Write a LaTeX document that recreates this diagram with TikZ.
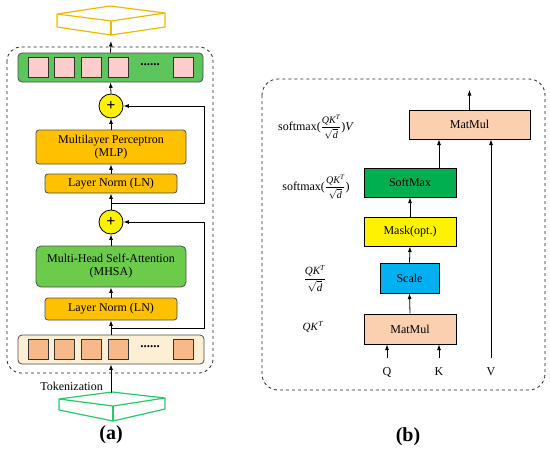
\documentclass[tikz,border=0pt]{standalone}
\usepackage{amsmath}
\usepackage{fontspec}
\setmainfont{Liberation Serif}
\usetikzlibrary{arrows.meta,calc}
\definecolor{gold}{HTML}{FFC000}
\definecolor{goldline}{HTML}{F5B800}
\definecolor{mhsagreen}{HTML}{6CCB4B}
\definecolor{bargreen}{HTML}{5CC55C}
\definecolor{prismgreen}{HTML}{22CC66}
\definecolor{pinksq}{HTML}{FFCCCC}
\definecolor{orangesq}{HTML}{F8B98A}
\definecolor{beige}{HTML}{FCEFD4}
\definecolor{peach}{HTML}{FAD0B0}
\definecolor{smgreen}{HTML}{00B050}
\definecolor{scaleblue}{HTML}{00B0F0}
\newcommand{\ti}[1]{\text{\itshape #1}}
\newcommand{\myfrac}{{\fontsize{10}{12}\selectfont$\dfrac{\ti{QK}^{\ti{T}}}{\sqrt{\ti{d}}}$}}
\begin{document}
\begin{tikzpicture}[x=1pt,y=-1pt,
  every node/.style={font=\fontsize{12}{14}\selectfont},
  arr/.style={-{Latex[length=5.5pt,width=4pt]},line width=0.8pt},
  rbox/.style={draw=black!70,line width=0.8pt,rounded corners=3pt,align=center,inner sep=0pt},
  lnbox/.style={rbox,fill=gold,minimum width=132pt,minimum height=20pt},
  bigbox/.style={rbox,minimum width=150pt},
  sq/.style={draw=black!80,line width=0.8pt,minimum width=20pt,minimum height=20pt,inner sep=0pt},
  plusnode/.style={circle,draw=black,line width=0.8pt,fill=yellow,minimum size=24pt,inner sep=0pt,font=\fontsize{16}{16}\selectfont\bfseries},
  bbox/.style={draw=black,line width=1pt,inner sep=0pt,minimum height=29pt},
  dashbox/.style={draw=black!85,dashed,line width=0.8pt,rounded corners=14pt},
  prism/.style={line width=1.2pt,line join=round},
  fml/.style={inner sep=0pt}]
\useasboundingbox (0,0) rectangle (550,450);

% ---------- panel (a) ----------
\draw[dashbox] (7,47) rectangle (213,373);

% top prism (output)
\begin{scope}[prism,draw=goldline]
\draw (57,14) -- (110,6) -- (165,13) -- (111,21) -- cycle;
\draw (57,14) -- (57,27) -- (111,35) -- (165,27) -- (165,13);
\draw[line width=2.6pt] (111,21) -- (111,35);
\end{scope}
\coordinate (topin) at (111,41);

% bottom prism (input)
\begin{scope}[prism,draw=prismgreen]
\draw (59,399) -- (112,392) -- (165,398) -- (113,406) -- cycle;
\draw (59,399) -- (59,410) -- (113,421) -- (165,409) -- (165,398);
\draw[line width=2.6pt] (113,406) -- (113,421);
\end{scope}
\coordinate (botout) at (111,393);

% output token bar
\node[rbox,fill=bargreen,minimum width=185pt,minimum height=29pt,rounded corners=4pt] (outbar) at (110.5,67.5) {};
\foreach \x/\n in {38/1,64/2,91/3,118/4,183/5}
  \node[sq,fill=pinksq] (o\n) at (\x,67) {};
\node[font=\fontsize{13}{14}\selectfont\bfseries] (odots) at (150,65) {......};

% input token bar
\node[rbox,fill=beige,minimum width=186pt,minimum height=29pt,rounded corners=4pt] (inbar) at (111,349.5) {};
\foreach \x/\n in {38/1,64/2,91/3,118/4,183/5}
  \node[sq,fill=orangesq] (i\n) at (\x,349.5) {};
\node[font=\fontsize{13}{14}\selectfont\bfseries] (idots) at (150,347) {......};

% blocks
\node[plusnode] (p1) at (111,106) {+};
\node[plusnode] (p2) at (111,222) {+};
\node[bigbox,fill=gold,minimum height=34pt] (mlp) at (111,147) {Multilayer Perceptron\\[-1pt](MLP)};
\node[lnbox,minimum height=19pt] (ln1) at (111,183.5) {Layer Norm (LN)};
\node[bigbox,fill=mhsagreen,minimum height=41pt,rounded corners=5pt] (mhsa) at (111,266.5) {Multi-Head Self-Attention\\[-1pt](MHSA)};
\node[lnbox,minimum height=22pt] (ln2) at (111,309) {Layer Norm (LN)};

\coordinate (b2) at (111,328);
\coordinate (b1) at (111,203);
\coordinate (r2) at (204,328);
\coordinate (r1) at (204,203);

\draw[arr] (inbar.north) -- (ln2.south);
\draw[arr] (b2) -- (r2) |- (p2.east);
\draw[arr] (ln2.north) -- (mhsa.south);
\draw[arr] (mhsa.north) -- (p2.south);
\draw[arr] (p2.north) -- (ln1.south);
\draw[arr] (b1) -- (r1) |- (p1.east);
\draw[arr] (ln1.north) -- (mlp.south);
\draw[arr] (mlp.north) -- (p1.south);
\draw[arr] (p1.north) -- (outbar.south);
\draw[arr] (outbar.north) -- (topin);
\draw[arr] (botout) -- (inbar.south);
\node[anchor=east,inner sep=0pt] (tok) at (103,386) {Tokenization};
\node[font=\fontsize{20}{22}\selectfont\bfseries] (la) at (111,435) {(a)};

% ---------- panel (b) ----------
\draw[dashbox,rounded corners=16pt] (262,79) rectangle (545,390);

\node[bbox,fill=peach,minimum width=121pt] (mm2) at (469.5,124.5) {MatMul};
\node[bbox,fill=smgreen,minimum width=92pt] (sm) at (410,182.5) {SoftMax};
\node[bbox,fill=yellow,minimum width=92pt] (mask) at (410,231.5) {Mask(opt.)};
\node[bbox,fill=scaleblue,minimum width=59pt,minimum height=30pt] (scale) at (409.5,278) {Scale};
\node[bbox,fill=peach,minimum width=92pt,minimum height=30pt] (mm1) at (410,329) {MatMul};

\node[inner sep=0pt] (Q) at (387,372) {Q};
\node[inner sep=0pt] (K) at (439,372) {K};
\node[inner sep=0pt] (V) at (491,372) {V};
\coordinate (qs) at (387,358);
\coordinate (ks) at (439,358);
\coordinate (vs) at (491,358);
\coordinate (topout) at (469.5,90);
\coordinate (sms) at (439,168);

\draw[arr] (qs) -- (qs |- mm1.south);
\draw[arr] (ks) -- (ks |- mm1.south);
\draw[arr] (vs) -- (vs |- mm2.south);
\draw[arr] (mm1.north) -- (scale.south);
\draw[arr] (scale.north) -- (mask.south);
\draw[arr] (mask.north) -- (sm.south);
\draw[arr] (sms) -- (sms |- mm2.south);
\draw[arr] (mm2.north) -- (topout);

\node[fml] (f1) at (316,127) {softmax(\myfrac)\textit{V}};
\node[fml] (f2) at (316,187) {softmax(\myfrac)};
\node[fml,font=\fontsize{11}{13}\selectfont] (f3) at (315,279) {$\dfrac{\ti{QK}^{\ti{T}}}{\sqrt{\ti{d}}}$};
\node[fml,font=\fontsize{11}{13}\selectfont] (f4) at (313,327) {\textit{QK}$^{\ti{T}}$};
\node[font=\fontsize{20}{22}\selectfont\bfseries] (lb) at (408,437) {(b)};
\end{tikzpicture}
\end{document}
